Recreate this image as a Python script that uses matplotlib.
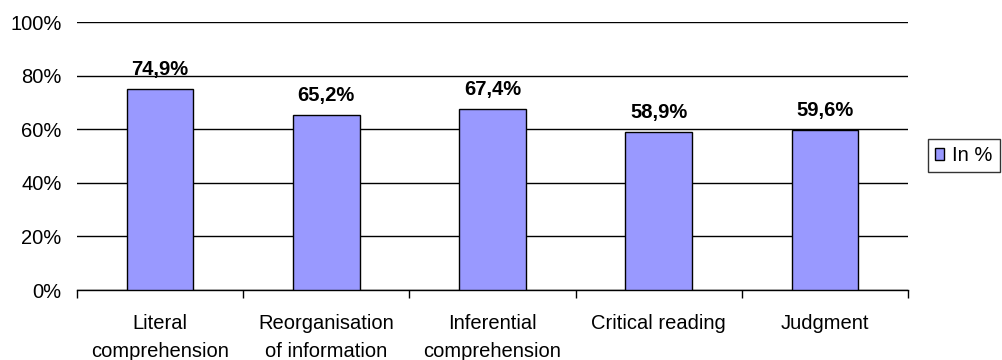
import matplotlib.pyplot as plt
import numpy as np

plt.rcParams['font.family'] = ['Liberation Sans', 'DejaVu Sans']

categories = ["Literal\ncomprehension", "Reorganisation\nof information",
              "Inferential\ncomprehension", "Critical reading", "Judgment"]
values = [74.9, 65.2, 67.4, 58.9, 59.6]
labels = ["74,9%", "65,2%", "67,4%", "58,9%", "59,6%"]

fig = plt.figure(figsize=(10.03, 3.6), dpi=100)
ax = fig.add_axes([77 / 1003, 70 / 360, 831 / 1003, 268 / 360])

x = np.arange(len(categories))
bars = ax.bar(x, values, width=0.4, color="#9999ff", edgecolor="black",
              linewidth=1.0, label="In %", zorder=3)

for b, v, t in zip(bars, values, labels):
    ax.annotate(t, (b.get_x() + b.get_width() / 2, v), xytext=(0, 10.5),
                textcoords="offset points", ha="center", va="baseline",
                fontsize=14.5, fontweight="bold", zorder=4)

ax.set_xlim(-0.5, len(categories) - 0.5)
ax.set_ylim(0, 100)
ax.set_yticks(range(0, 101, 20))
ax.set_yticklabels([f"{v}%" for v in range(0, 101, 20)], fontsize=14.5)
ax.yaxis.grid(True, color="black", linewidth=1.0, zorder=0)
ax.tick_params(axis="y", length=0, pad=11)

# category labels centred, ticks at the boundaries
ax.set_xticks(x)
ax.set_xticklabels(categories, fontsize=14.5, linespacing=1.6)
ax.set_xticks(np.arange(-0.5, len(categories)), minor=True)
ax.tick_params(axis="x", which="major", length=0, pad=17)
ax.tick_params(axis="x", which="minor", length=6, width=1.0, direction="out")

for s in ["top", "right", "left"]:
    ax.spines[s].set_visible(False)
ax.spines["bottom"].set_linewidth(1.0)

fig.legend(loc="center left", bbox_to_anchor=(928 / 1003, 1 - 155.5 / 360),
           frameon=True, fancybox=False, edgecolor="black", fontsize=14.5,
           handlelength=0.45, handleheight=0.55, handletextpad=0.4,
           borderpad=0.35, borderaxespad=0)

fig.savefig("out.png", dpi=100)
